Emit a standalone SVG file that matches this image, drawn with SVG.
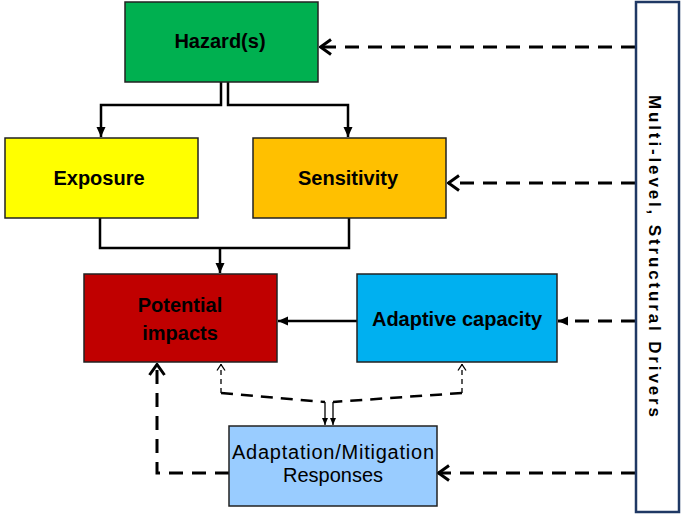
<svg xmlns="http://www.w3.org/2000/svg" width="681" height="516" viewBox="0 0 681 516">
<style>
.box{stroke:#222;stroke-width:1.5}
.lbl{font-family:"Liberation Sans",Arial,sans-serif;font-weight:bold;font-size:20px;fill:#000;text-anchor:middle}
.lbl2{font-family:"Liberation Sans",Arial,sans-serif;font-size:20px;fill:#000;text-anchor:middle}
.solid{fill:none;stroke:#000;stroke-width:2.5}
.dash{fill:none;stroke:#000;stroke-width:3;stroke-dasharray:14 9}
.thin{fill:none;stroke:#000;stroke-width:1.3;stroke-dasharray:5 4}
.thinsolid{fill:none;stroke:#000;stroke-width:1.3}
</style>
<defs>
<marker id="sa" viewBox="0 0 10 10" refX="10" refY="5" markerWidth="10" markerHeight="10" markerUnits="userSpaceOnUse" orient="auto"><path d="M0,0.5 L10,5 L0,9.5 z" fill="#000"/></marker>
<marker id="ca" viewBox="0 0 14 18" refX="13" refY="9" markerWidth="14" markerHeight="18" markerUnits="userSpaceOnUse" orient="auto"><path d="M2,1.5 L12.5,9 L2,16.5" fill="none" stroke="#000" stroke-width="3"/></marker>
<marker id="cs" viewBox="0 0 8 10" refX="7.5" refY="5" markerWidth="8" markerHeight="10" markerUnits="userSpaceOnUse" orient="auto"><path d="M1,1 L7,5 L1,9" fill="none" stroke="#000" stroke-width="1.3"/></marker>
<marker id="ss" viewBox="0 0 7 7" refX="7" refY="3.5" markerWidth="7" markerHeight="7" markerUnits="userSpaceOnUse" orient="auto"><path d="M0,0.5 L7,3.5 L0,6.5 z" fill="#000"/></marker>
</defs>

<g id="connectors">
  <path class="solid" d="M221,82 V105 H101 V137" marker-end="url(#sa)"/>
  <path class="solid" d="M228,82 V105 H348 V137" marker-end="url(#sa)"/>
  <path class="solid" d="M100,218 V248 H349 V218"/>
  <path class="solid" d="M220,248 V273" marker-end="url(#sa)"/>
  <path class="solid" d="M357,321 H278" marker-end="url(#sa)"/>
  <path class="dash" d="M635,47 H320" marker-end="url(#ca)"/>
  <path class="dash" d="M635,183 H448" marker-end="url(#ca)"/>
  <path class="dash" d="M635,321 H558" marker-end="url(#sa)"/>
  <path class="dash" d="M635,473 H438" marker-end="url(#ca)"/>
  <path class="dash" d="M229,473 H157 V364" marker-end="url(#ca)"/>
  <path class="thin" d="M221,393 V364" marker-end="url(#cs)"/>
  <path class="thin" d="M462,393 V364" marker-end="url(#cs)"/>
  <path class="dash" d="M221,393 L325,402" style="stroke-width:2.5;stroke-dasharray:12 8"/>
  <path class="dash" d="M462,393 L333,402" style="stroke-width:2.5;stroke-dasharray:12 8"/>
  <path class="thinsolid" d="M325,402 V425" marker-end="url(#ss)"/>
  <path class="thinsolid" d="M333,402 V425" marker-end="url(#ss)"/>
</g>

<g id="hazard">
  <rect class="box" x="125" y="2" width="193" height="80" fill="#00b050"/>
  <text class="lbl" x="220" y="48">Hazard(s)</text>
</g>
<g id="exposure">
  <rect class="box" x="5" y="138" width="193" height="80" fill="#ffff00"/>
  <text class="lbl" x="99" y="185">Exposure</text>
</g>
<g id="sensitivity">
  <rect class="box" x="253" y="138" width="193" height="80" fill="#ffc000"/>
  <text class="lbl" x="348" y="185">Sensitivity</text>
</g>
<g id="potential">
  <rect class="box" x="84" y="274" width="193" height="88" fill="#c00000"/>
  <text class="lbl" x="180" y="312">Potential</text>
  <text class="lbl" x="180" y="340">impacts</text>
</g>
<g id="adaptive">
  <rect class="box" x="357" y="274" width="200" height="88" fill="#00b0f0"/>
  <text class="lbl" x="457" y="326">Adaptive capacity</text>
</g>
<g id="responses">
  <rect class="box" x="229" y="426" width="208" height="80" fill="#99ccff"/>
  <text class="lbl2" x="333" y="459" textLength="202" lengthAdjust="spacing">Adaptation/Mitigation</text>
  <text class="lbl2" x="333" y="482">Responses</text>
</g>
<g id="drivers">
  <rect x="636" y="2" width="43" height="510" fill="#fff" stroke="#1f3864" stroke-width="2.5"/>
  <text class="lbl" transform="translate(649,256) rotate(90)" x="0" y="0" style="font-size:17px" textLength="322" lengthAdjust="spacing">Multi-level, Structural Drivers</text>
</g>
</svg>
